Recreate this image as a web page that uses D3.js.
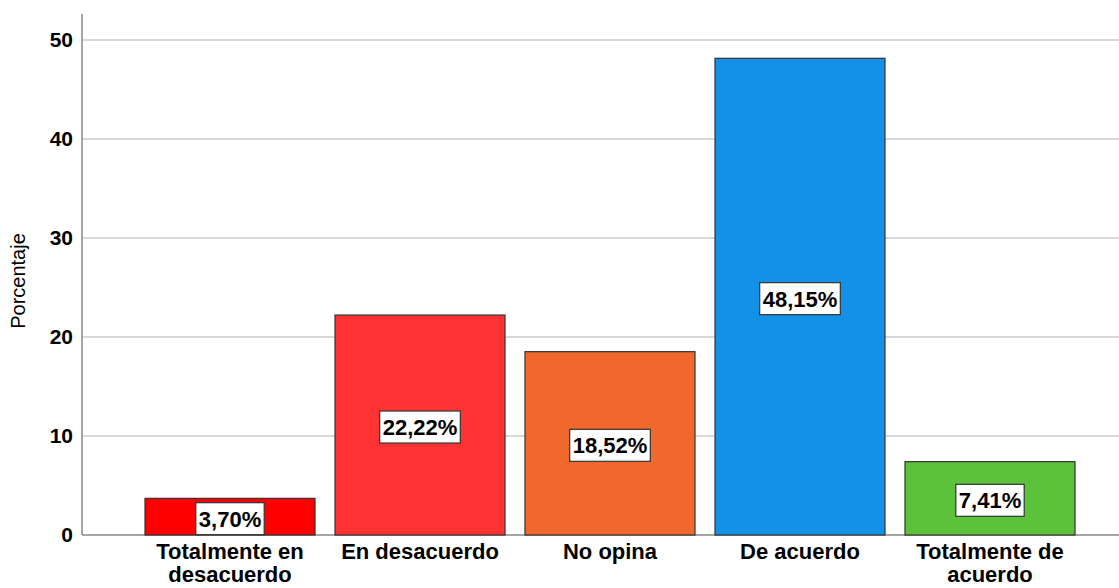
<!DOCTYPE html>
<html>
<head>
<meta charset="utf-8">
<script src="https://cdn.jsdelivr.net/npm/d3@7"></script>
<style>
	body { margin: 0; background: #fff; }
	svg { display: block; font-family: "Liberation Sans", Arial, sans-serif; }
</style>
</head>
<body>
<svg id="chart" width="1119" height="588"></svg>
<script>
const categories = ["Totalmente en desacuerdo", "En desacuerdo", "No opina", "De acuerdo", "Totalmente de acuerdo"];
const categoryLines = [["Totalmente en", "desacuerdo"], ["En desacuerdo"], ["No opina"], ["De acuerdo"], ["Totalmente de", "acuerdo"]];
const percentages = [3.70, 22.22, 18.52, 48.15, 7.41];
const barColors = ["#ff0000", "#ff3333", "#f0682c", "#1391e6", "#5dc23b"];
const yTicks = [0, 10, 20, 30, 40, 50];

const svg = d3.select("#chart");
const plotLeft = 82, plotRight = 1119, plotBottom = 535, plotTop = 14;

const x = d3.scaleBand()
	.domain(categories)
	.range([135, 1085])
	.paddingInner(20 / 190)
	.paddingOuter(10 / 190);

const y = d3.scaleLinear().domain([0, 50]).range([plotBottom, 40]);

// gridlines
svg.append("g")
	.selectAll("line")
	.data(yTicks.filter(d => d > 0))
	.join("line")
	.attr("x1", plotLeft).attr("x2", plotRight)
	.attr("y1", d => y(d)).attr("y2", d => y(d))
	.attr("stroke", "#d9d9d9")
	.attr("stroke-width", 2);

// y axis
const yAxis = svg.append("g")
	.attr("transform", `translate(${plotLeft},0)`)
	.call(d3.axisLeft(y).tickValues(yTicks).tickSize(0).tickPadding(9));
yAxis.select(".domain").remove();
yAxis.selectAll("text")
	.attr("font-size", 21)
	.attr("font-weight", "bold")
	.attr("fill", "#000")
	.attr("font-family", "Liberation Sans, Arial, sans-serif");

svg.append("line")
	.attr("x1", plotLeft).attr("x2", plotLeft)
	.attr("y1", plotTop).attr("y2", plotBottom)
	.attr("stroke", "#888").attr("stroke-width", 1.5);

svg.append("line")
	.attr("x1", plotLeft).attr("x2", plotRight)
	.attr("y1", plotBottom).attr("y2", plotBottom)
	.attr("stroke", "#888").attr("stroke-width", 1.5);

// bars
svg.append("g")
	.selectAll("rect")
	.data(percentages)
	.join("rect")
	.attr("x", (d, i) => x(categories[i]))
	.attr("y", d => y(d))
	.attr("width", x.bandwidth())
	.attr("height", d => plotBottom - y(d))
	.attr("fill", (d, i) => barColors[i])
	.attr("stroke", "#333")
	.attr("stroke-width", 1.2);

// value labels
const labels = svg.append("g")
	.selectAll("g")
	.data(percentages)
	.join("g")
	.attr("transform", (d, i) => {
		const cx = x(categories[i]) + x.bandwidth() / 2;
		const cy = Math.min((y(d) + plotBottom) / 2 + 2, plotBottom - 16);
		return `translate(${cx},${cy})`;
	});

labels.append("text")
	.attr("text-anchor", "middle")
	.attr("dy", "0.36em")
	.attr("font-size", 22)
	.attr("font-weight", "bold")
	.text(d => d.toFixed(2).replace(".", ",") + "%");

labels.each(function() {
	const g = d3.select(this);
	const bb = g.select("text").node().getBBox();
	g.insert("rect", "text")
		.attr("x", bb.x - 3)
		.attr("y", -16)
		.attr("width", bb.width + 6)
		.attr("height", 32)
		.attr("fill", "#fff")
		.attr("stroke", "#333")
		.attr("stroke-width", 1.2);
});

// category labels
const xl = svg.append("g")
	.selectAll("text")
	.data(categoryLines)
	.join("text")
	.attr("x", (d, i) => x(categories[i]) + x.bandwidth() / 2)
	.attr("y", 559)
	.attr("text-anchor", "middle")
	.attr("font-size", 22)
	.attr("font-weight", "bold");
xl.selectAll("tspan")
	.data(d => d)
	.join("tspan")
	.attr("x", function() { return this.parentNode.getAttribute("x"); })
	.attr("dy", (d, i) => i === 0 ? 0 : 23)
	.text(d => d);

// y title
svg.append("text")
	.attr("transform", "translate(25,281) rotate(-90)")
	.attr("text-anchor", "middle")
	.attr("font-size", 20)
	.text("Porcentaje");
</script>
</body>
</html>
